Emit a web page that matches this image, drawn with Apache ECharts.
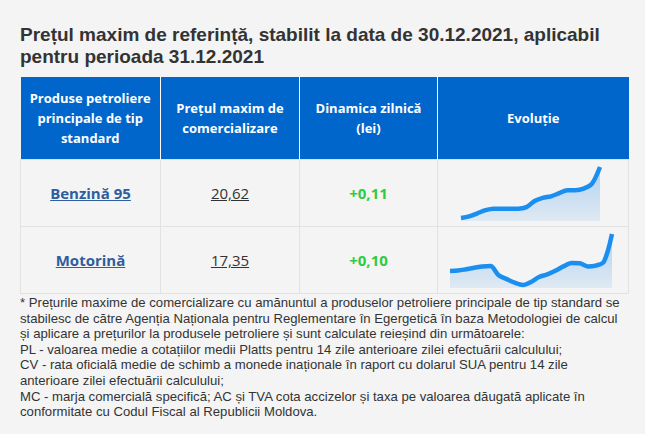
<!DOCTYPE html>
<html>
<head>
<meta charset="utf-8">
<script src="https://cdn.jsdelivr.net/npm/echarts@6/dist/echarts.min.js"></script>
<style>
  html, body { margin: 0; padding: 0; background: #f4f4f4; }
  body { width: 645px; height: 434px; position: relative; overflow: hidden; font-family: "Liberation Sans", Arial, sans-serif; color: #333; }
  h1 { position: absolute; left: 20px; top: 24px; margin: 0; font-size: 19px; line-height: 22px; font-weight: bold; color: #333; white-space: nowrap; }
  table { position: absolute; left: 20px; top: 77px; border-collapse: collapse; table-layout: fixed; }
  th { background: #0066cc; color: #fff; font-family: "Open Sans", sans-serif; font-weight: 700; font-size: 13px; line-height: 20px; text-align: center; height: 82px; padding: 0; border-left: 1px solid #fff; }
  th:first-child { border-left: none; }
  td { height: 66px; border: 1px solid #e2e2e2; text-align: center; padding: 0; font-family: "Open Sans", sans-serif; font-size: 15px; }
  .name { color: #2f5d9e; font-weight: 700; text-decoration: underline; }
  .price { color: #333; text-decoration: underline; }
  .dyn { color: #2ecc40; font-weight: 700; }
  .note { position: absolute; left: 20px; top: 295px; font-size: 13.15px; line-height: 15.6px; color: #333; white-space: nowrap; }
  #chart { position: absolute; left: 0; top: 0; width: 645px; height: 434px; pointer-events: none; }
</style>
</head>
<body>
<h1>Prețul maxim de referință, stabilit la data de 30.12.2021, aplicabil<br>pentru perioada 31.12.2021</h1>
<table>
  <colgroup><col style="width:140px"><col style="width:139px"><col style="width:138px"><col style="width:191px"></colgroup>
  <tr>
    <th>Produse petroliere<br>principale de tip<br>standard</th>
    <th>Prețul maxim de<br>comercializare</th>
    <th>Dinamica zilnică<br>(lei)</th>
    <th>Evoluție</th>
  </tr>
  <tr>
    <td><span class="name">Benzină 95</span></td>
    <td><span class="price">20,62</span></td>
    <td><span class="dyn">+0,11</span></td>
    <td></td>
  </tr>
  <tr>
    <td><span class="name">Motorină</span></td>
    <td><span class="price">17,35</span></td>
    <td><span class="dyn">+0,10</span></td>
    <td></td>
  </tr>
</table>
<div class="note">
* Prețurile maxime de comercializare cu amănuntul a produselor petroliere principale de tip standard se<br>
stabilesc de către Agenția Naționala pentru Reglementare în Egergetică în baza Metodologiei de calcul<br>
și aplicare a prețurilor la produsele petroliere și sunt calculate reieșind din următoarele:<br>
PL - valoarea medie a cotațiilor medii Platts pentru 14 zile anterioare zilei efectuării calculului;<br>
CV - rata oficială medie de schimb a monede inaționale în raport cu dolarul SUA pentru 14 zile<br>
anterioare zilei efectuării calculului;<br>
MC - marja comercială specifică; AC și TVA cota accizelor și taxa pe valoarea dăugată aplicate în<br>
conformitate cu Codul Fiscal al Republicii Moldova.
</div>
<div id="chart"></div>
<script>
// evolutia preturilor (lei)
var benzina = [20.29, 20.30, 20.32, 20.34, 20.35, 20.35, 20.35, 20.35, 20.36, 20.40,
               20.42, 20.43, 20.45, 20.47, 20.47, 20.48, 20.51, 20.62];
var motorina = [17.216, 17.218, 17.223, 17.228, 17.233, 17.234, 17.201, 17.187, 17.174, 17.166,
                17.177, 17.195, 17.204, 17.217, 17.233, 17.245, 17.244, 17.233, 17.236, 17.250, 17.350];

function idx(arr) {
    return arr.map(function (v, i) { return i; });
}

var myChart = echarts.init(document.getElementById('chart'));

var area = {
    color: new echarts.graphic.LinearGradient(0, 0, 0, 1, [
        { offset: 0, color: 'rgba(50,145,235,0.5)' },
        { offset: 1, color: 'rgba(50,145,235,0.15)' }
    ])
};

var option = {
    animation: false,
    grid: [
        { left: 461, top: 167, width: 139, height: 54 },
        { left: 450, top: 234, width: 162, height: 54 }
    ],
    xAxis: [
        { gridIndex: 0, type: 'category', boundaryGap: false, data: idx(benzina), show: false },
        { gridIndex: 1, type: 'category', boundaryGap: false, data: idx(motorina), show: false }
    ],
    yAxis: [
        { gridIndex: 0, type: 'value', min: 20.27, max: 20.62, show: false },
        { gridIndex: 1, type: 'value', min: 17.155, max: 17.35, show: false }
    ],
    series: [
        {
            type: 'line', xAxisIndex: 0, yAxisIndex: 0, data: benzina,
            smooth: 0.3, symbol: 'none',
            lineStyle: { color: '#1a8ff0', width: 4.5 },
            areaStyle: area
        },
        {
            type: 'line', xAxisIndex: 1, yAxisIndex: 1, data: motorina,
            smooth: 0.3, symbol: 'none',
            lineStyle: { color: '#1a8ff0', width: 4.5 },
            areaStyle: area
        }
    ]
};

myChart.setOption(option);
</script>
</body>
</html>
